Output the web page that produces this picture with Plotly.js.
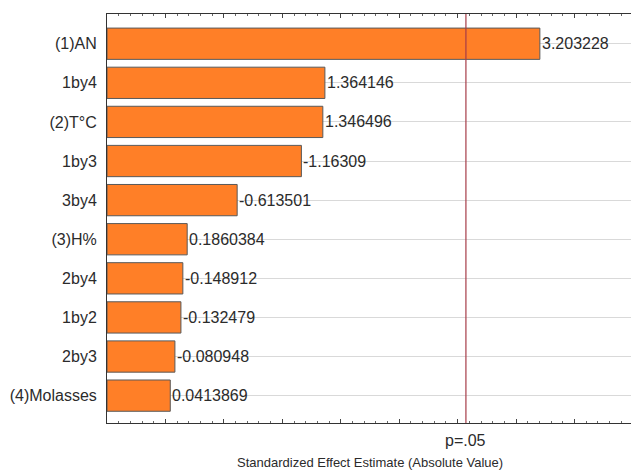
<!DOCTYPE html>
<html>
<head>
<meta charset="utf-8">
<script src="https://cdn.plot.ly/plotly-3.0.1.min.js"></script>
<style>
  html, body { margin: 0; padding: 0; overflow: hidden; background: #fff; }
  #chart { width: 634px; height: 470px; }
</style>
</head>
<body>
<div id="chart"></div>
<script>
// Pareto chart of standardized effects
const terms = ["(1)AN", "1by4", "(2)T°C", "1by3", "3by4", "(3)H%", "2by4", "1by2", "2by3", "(4)Molasses"];
const effects = [3.203228, 1.364146, 1.346496, -1.16309, -0.613501, 0.1860384, -0.148912, -0.132479, -0.080948, 0.0413869];
const pCritical = 2.570582;   // t(0.975, 5)
const pLabel = "p=.05";
const xTitle = "Standardized Effect Estimate (Absolute Value)";

const axisMin = -0.5;
const axisMax = 4.0;
const absEffects = effects.map(v => Math.abs(v));

const font = { family: "Liberation Sans, Arial, sans-serif", size: 16, color: "#2b2b2b" };

const bars = {
  type: "bar",
  orientation: "h",
  y: terms,
  base: axisMin,
  x: absEffects.map(v => v - axisMin),
  width: 0.8,
  marker: { color: "#FF7F27", line: { color: "#595959", width: 1 } },
  hoverinfo: "skip"
};

const valueLabels = terms.map((t, i) => ({
  x: absEffects[i], y: t, xref: "x", yref: "y",
  text: String(effects[i]), showarrow: false,
  xanchor: "left", yanchor: "middle", xshift: 0,
  font: font
}));

const layout = {
  width: 634, height: 470,
  margin: { l: 107, r: 1, t: 14, b: 47 },
  paper_bgcolor: "#fff", plot_bgcolor: "#fff",
  showlegend: false,
  font: font,
  xaxis: {
    range: [axisMin, axisMax],
    tick0: 0, dtick: 0.5,
    ticks: "inside", ticklen: 4, tickcolor: "#444",
    minor: { dtick: 0.1, ticks: "inside", ticklen: 2, tickcolor: "#666" },
    showticklabels: false,
    showgrid: false, zeroline: false,
    showline: true, linecolor: "#333", linewidth: 1,
    mirror: "ticks"
  },
  yaxis: {
    type: "category",
    categoryorder: "array", categoryarray: terms,
    range: [9.7, -0.76],
    showgrid: true, gridcolor: "#d9d9d9", gridwidth: 1,
    ticks: "", ticklabelstandoff: 6,
    showline: true, linecolor: "#333", linewidth: 1,
    zeroline: false,
    tickfont: font
  },
  shapes: [{
    type: "line", xref: "x", yref: "paper",
    x0: pCritical, x1: pCritical, y0: 0, y1: 1,
    line: { color: "#a63d48", width: 1.2 },
    layer: "above"
  }],
  annotations: valueLabels.concat([
    { x: pCritical, y: 0, xref: "x", yref: "paper", yanchor: "top", yshift: -7,
      text: pLabel, showarrow: false, font: font },
    { x: 0.5, y: 0, xref: "paper", yref: "paper", yanchor: "top", yshift: -30,
      text: xTitle, showarrow: false,
      font: { family: font.family, size: 13, color: "#2b2b2b" } }
  ])
};

Plotly.newPlot("chart", [bars], layout, { staticPlot: true, displayModeBar: false });
</script>
</body>
</html>
